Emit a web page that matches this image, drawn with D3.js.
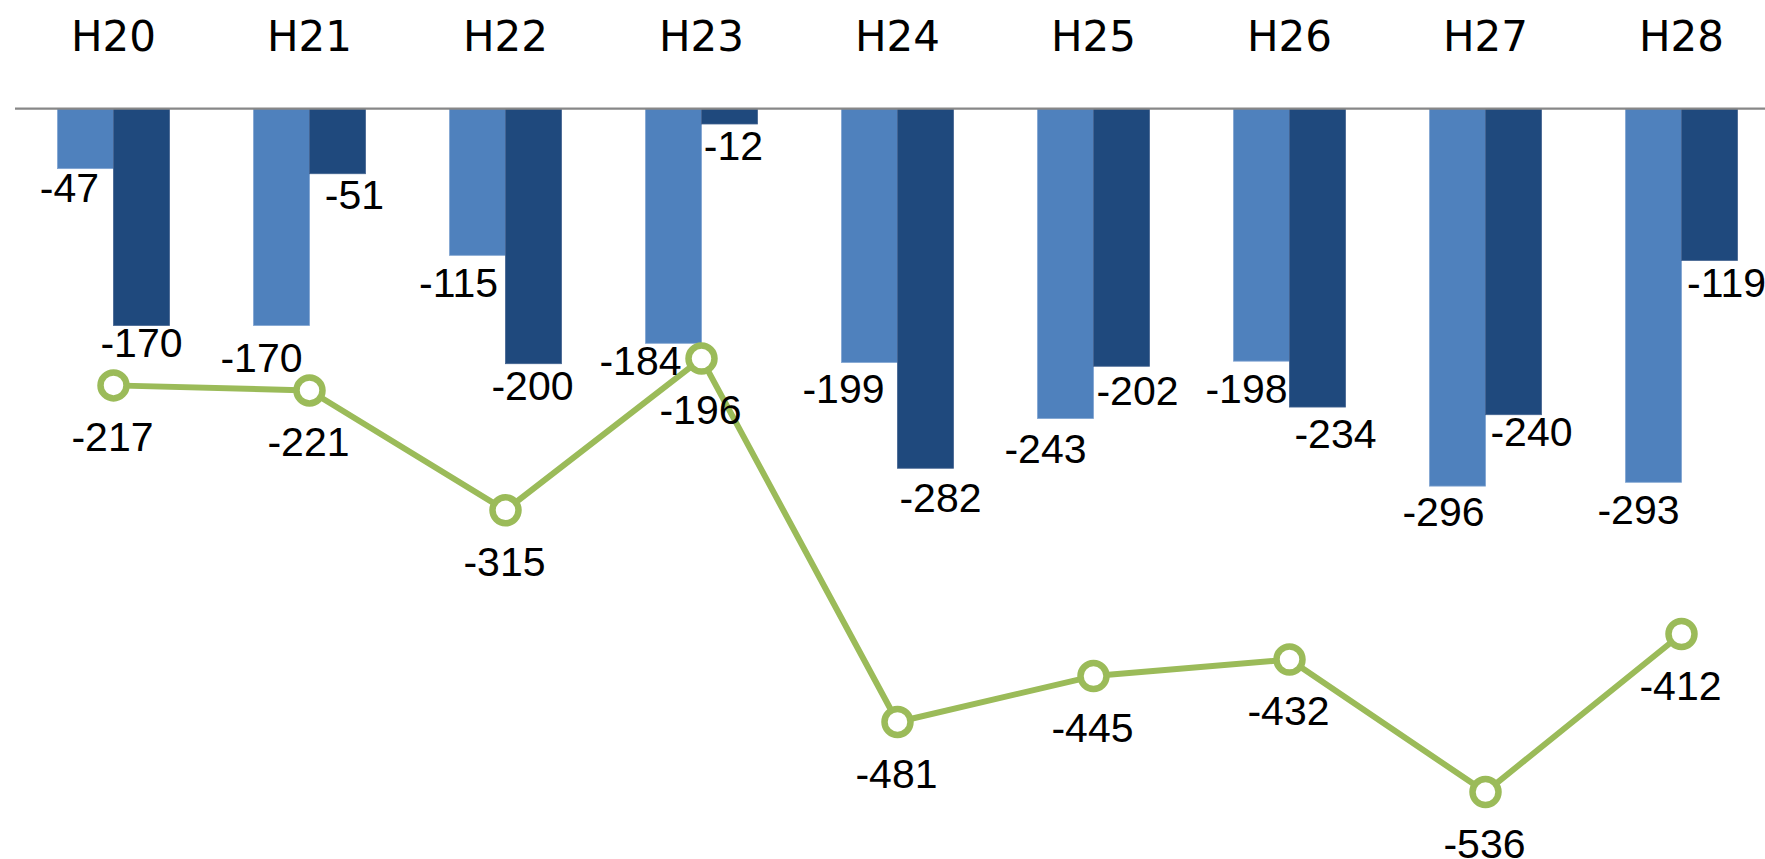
<!DOCTYPE html>
<html>
<head>
<meta charset="utf-8">
<script src="https://cdn.jsdelivr.net/npm/d3@7"></script>
<style>
  html, body { margin: 0; padding: 0; background: #ffffff; overflow: hidden; }
  svg { display: block; }
</style>
</head>
<body>
<svg id="chart" width="1765" height="859"></svg>
<script>
// ---- data ----
const categories = ["H20", "H21", "H22", "H23", "H24", "H25", "H26", "H27", "H28"];
const seriesA = [-47, -170, -115, -184, -199, -243, -198, -296, -293];   // light blue bars
const seriesB = [-170, -51, -200, -12, -282, -202, -234, -240, -119];   // dark blue bars
const seriesTotal = [-217, -221, -315, -196, -481, -445, -432, -536, -412]; // green line

// ---- layout (label nudges in px: [dx, dy of text centre below bar end]) ----
const nudgeA = [[-16, 19], [-20, 32], [-19, 27], [-33, 17], [-26, 26], [-20, 30], [-15, 27], [-14, 25], [-15, 27]];
const nudgeB = [[0, 17], [17, 21], [-1, 22], [4, 21], [15, 29], [16, 24], [18, 26], [18, 17], [17, 22]];

const W = 1765, H = 859;
const zeroY = 108.7;
const pxPerUnit = 1.275;
const dataFont = "'Liberation Sans', Arial, sans-serif";
const dataSize = 41;
const catFont = "'DejaVu Sans', Verdana, sans-serif";
const catSize = 42;
const colA = "#4F81BD", colB = "#1F497D", colLine = "#9BBB59";

const svg = d3.select("#chart");

const x = d3.scaleBand()
  .domain(categories)
  .range([15.5, 15.5 + 196 * categories.length])
  .paddingInner(84 / 196)
  .paddingOuter(42 / 196);

const xSub = d3.scaleBand()
  .domain(["A", "B"])
  .range([0, x.bandwidth()])
  .padding(0);

const y = d3.scaleLinear()
  .domain([0, -600])
  .range([zeroY, zeroY + 600 * pxPerUnit]);

const rows = categories.map((c, i) => ({
  cat: c, a: seriesA[i], b: seriesB[i], t: seriesTotal[i], i
}));

// ---- bars ----
const gBars = svg.append("g");
const barDefs = [
  { key: "A", vals: seriesA, fill: colA, stroke: "#7FA3D1", nudge: nudgeA },
  { key: "B", vals: seriesB, fill: colB, stroke: "#41628F", nudge: nudgeB }
];
barDefs.forEach(def => {
  gBars.selectAll(null)
    .data(rows)
    .enter().append("rect")
    .attr("x", d => x(d.cat) + xSub(def.key))
    .attr("y", y(0))
    .attr("width", xSub.bandwidth())
    .attr("height", d => y(def.vals[d.i]) - y(0))
    .attr("fill", def.fill)
    .attr("stroke", def.stroke)
    .attr("stroke-width", 0.8);
});

// ---- zero axis line ----
svg.append("line")
  .attr("x1", 15).attr("x2", W)
  .attr("y1", y(0)).attr("y2", y(0))
  .attr("stroke", "#878787")
  .attr("stroke-width", 2.2);

// ---- category labels (top) ----
svg.append("g").selectAll("text")
  .data(categories)
  .enter().append("text")
  .attr("x", d => x(d) + x.bandwidth() / 2)
  .attr("y", 50.5)
  .attr("text-anchor", "middle")
  .attr("font-family", catFont)
  .attr("font-size", catSize)
  .attr("fill", "#000")
  .text(d => d);

// ---- total line ----
const cx = d => x(d.cat) + x.bandwidth() / 2;
const line = d3.line().x(cx).y(d => y(d.t));
svg.append("path")
  .datum(rows)
  .attr("d", line)
  .attr("fill", "none")
  .attr("stroke", colLine)
  .attr("stroke-width", 6)
  .attr("stroke-linejoin", "round");

svg.append("g").selectAll("circle")
  .data(rows)
  .enter().append("circle")
  .attr("cx", cx)
  .attr("cy", d => y(d.t))
  .attr("r", 13)
  .attr("fill", "#fff")
  .attr("stroke", colLine)
  .attr("stroke-width", 6.5);

// ---- data labels ----
const digitHalf = 0.358 * dataSize; // half height of digits (Arial-like)
const gLab = svg.append("g")
  .attr("font-family", dataFont)
  .attr("font-size", dataSize)
  .attr("fill", "#000")
  .attr("text-anchor", "middle");

barDefs.forEach(def => {
  gLab.selectAll(null)
    .data(rows)
    .enter().append("text")
    .attr("x", d => x(d.cat) + xSub(def.key) + xSub.bandwidth() / 2 + def.nudge[d.i][0])
    .attr("y", d => y(def.vals[d.i]) + def.nudge[d.i][1] + digitHalf)
    .text(d => def.vals[d.i]);
});

gLab.selectAll(null)
  .data(rows)
  .enter().append("text")
  .attr("x", d => cx(d) - 1)
  .attr("y", d => y(d.t) + 51 + digitHalf)
  .text(d => d.t);
</script>
</body>
</html>
